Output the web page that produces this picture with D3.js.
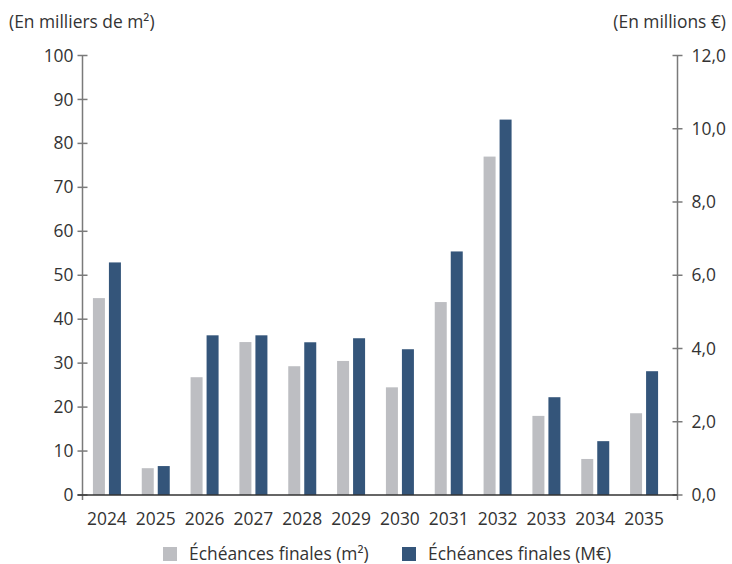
<!DOCTYPE html>
<html>
<head>
<meta charset="utf-8">
<script src="https://cdn.jsdelivr.net/npm/d3@7"></script>
<style>
  body { margin: 0; background: #fff; }
  svg { display: block; font-family: "Open Sans", sans-serif; }
</style>
</head>
<body>
<svg id="chart" width="732" height="564"></svg>
<script>
const years = ['2024', '2025', '2026', '2027', '2028', '2029', '2030', '2031', '2032', '2033', '2034', '2035'];
const surfaces = [44.8, 6.1, 26.8, 34.8, 29.3, 30.5, 24.5, 43.9, 77.0, 18.0, 8.2, 18.6];   // milliers de m²
const montants = [6.35, 0.79, 4.36, 4.36, 4.17, 4.28, 3.98, 6.65, 10.25, 2.67, 1.47, 3.38]; // millions €
const leftTicks = [0, 10, 20, 30, 40, 50, 60, 70, 80, 90, 100];
const rightTicks = [0, 2, 4, 6, 8, 10, 12];
const seriesNames = ['Échéances finales (m²)', 'Échéances finales (M€)'];

const grey = '#bdbec2';
const blue = '#34557a';
const textColor = '#333';
const axisColor = '#7a7a7a';
const fontSize = 17.4;

const svg = d3.select('#chart');

const plotLeft = 82.5;
const plotRight = 677.5;
const plotTop = 55.5;
const plotBottom = 495;

let x = d3.scaleBand()
  .domain(years)
  .range([plotLeft, 668.5]);

let yLeft = d3.scaleLinear().domain([0, 100]).range([plotBottom, plotTop]);
let yRight = d3.scaleLinear().domain([0, 12]).range([plotBottom, plotTop]);

const barW = 12;
const gap = 4;

// bars
svg.append('g').selectAll('rect')
  .data(years)
  .join('rect')
  .attr('x', (d) => x(d) + x.bandwidth() / 2 - gap / 2 - barW)
  .attr('y', (d, i) => yLeft(surfaces[i]))
  .attr('width', barW)
  .attr('height', (d, i) => plotBottom - yLeft(surfaces[i]))
  .attr('fill', grey);

svg.append('g').selectAll('rect')
  .data(years)
  .join('rect')
  .attr('x', (d) => x(d) + x.bandwidth() / 2 + gap / 2)
  .attr('y', (d, i) => yRight(montants[i]))
  .attr('width', barW)
  .attr('height', (d, i) => plotBottom - yRight(montants[i]))
  .attr('fill', blue);

// left axis
let gl = svg.append('g').attr('transform', `translate(${plotLeft},0)`);
gl.append('line').attr('y1', plotTop).attr('y2', plotBottom + 5).attr('stroke', axisColor).attr('stroke-width', 1.5);
gl.selectAll('line.tick')
  .data(leftTicks)
  .join('line')
  .attr('class', 'tick')
  .attr('x1', -5).attr('x2', 5)
  .attr('y1', (d) => yLeft(d)).attr('y2', (d) => yLeft(d))
  .attr('stroke', axisColor).attr('stroke-width', 1.5);
gl.selectAll('text')
  .data(leftTicks)
  .join('text')
  .attr('x', -9)
  .attr('y', (d) => yLeft(d))
  .attr('dy', '0.35em')
  .attr('text-anchor', 'end')
  .attr('font-size', fontSize)
  .attr('fill', textColor)
  .text((d) => d);

// right axis
let gr = svg.append('g').attr('transform', `translate(${plotRight},0)`);
gr.append('line').attr('y1', plotTop).attr('y2', plotBottom + 5).attr('stroke', axisColor).attr('stroke-width', 1.5);
gr.selectAll('line.tick')
  .data(rightTicks)
  .join('line')
  .attr('class', 'tick')
  .attr('x1', -5).attr('x2', 5)
  .attr('y1', (d) => yRight(d)).attr('y2', (d) => yRight(d))
  .attr('stroke', axisColor).attr('stroke-width', 1.5);
gr.selectAll('text')
  .data(rightTicks)
  .join('text')
  .attr('x', 14)
  .attr('y', (d) => yRight(d))
  .attr('dy', '0.35em')
  .attr('font-size', fontSize)
  .attr('fill', textColor)
  .text((d) => d3.format('.1f')(d).replace('.', ','));

// baseline + year labels
svg.append('line')
  .attr('x1', plotLeft - 5).attr('x2', plotRight)
  .attr('y1', plotBottom).attr('y2', plotBottom)
  .attr('stroke', '#333').attr('stroke-width', 1.5);

svg.append('g').selectAll('text')
  .data(years)
  .join('text')
  .attr('x', (d) => x(d) + x.bandwidth() / 2)
  .attr('y', 525)
  .attr('text-anchor', 'middle')
  .attr('font-size', fontSize)
  .attr('fill', textColor)
  .text((d) => d);

// axis titles
svg.append('text').attr('x', 9).attr('y', 28).attr('font-size', fontSize).attr('fill', textColor)
  .text('(En milliers de m²)');
svg.append('text').attr('x', 726).attr('y', 28).attr('text-anchor', 'end').attr('font-size', fontSize).attr('fill', textColor)
  .text('(En millions €)');

// legend
const legendX = [163, 402];
const legendColors = [grey, blue];
seriesNames.forEach((name, i) => {
  let g = svg.append('g').attr('transform', `translate(${legendX[i]},547)`);
  g.append('rect').attr('width', 14).attr('height', 14).attr('fill', legendColors[i]);
  g.append('text').attr('x', 26).attr('y', 7).attr('dy', '0.35em')
    .attr('font-size', fontSize).attr('fill', textColor).text(name);
});
</script>
</body>
</html>
